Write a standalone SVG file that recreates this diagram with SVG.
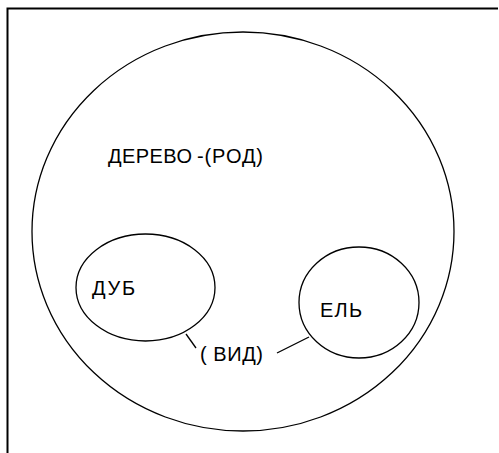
<svg xmlns="http://www.w3.org/2000/svg" width="499" height="453" viewBox="0 0 499 453">
<style>
.shape{fill:none;stroke:#000;stroke-width:1.3}
.lbl{font-family:"Liberation Sans",Arial,sans-serif;font-size:20px;fill:#000}
.frame{fill:none;stroke:#000;stroke-width:2}
</style>
<rect x="0" y="0" width="499" height="453" fill="#fff"/>
<path class="frame" d="M7.5,453 V8.5 H498"/>
<g id="derevo">
<ellipse class="shape" cx="243" cy="231.5" rx="211" ry="199.5"/>
<text class="lbl" x="108" y="163" textLength="84">ДЕРЕВО</text>
<text class="lbl" x="197" y="163" textLength="66">-(РОД)</text>
</g>
<g id="dub">
<ellipse class="shape" cx="145.5" cy="287.5" rx="69.5" ry="53.5"/>
<text class="lbl" x="92" y="295" textLength="43">ДУБ</text>
</g>
<g id="el">
<ellipse class="shape" cx="359" cy="302.5" rx="60" ry="55.5"/>
<text class="lbl" x="320" y="317" textLength="42">ЕЛЬ</text>
</g>
<g id="vid">
<text class="lbl" x="200" y="361" textLength="63">( ВИД)</text>
</g>
<g id="connectors">
<line class="shape" x1="186" y1="334" x2="196" y2="348"/>
<line class="shape" x1="277" y1="353" x2="309" y2="337"/>
</g>
</svg>
